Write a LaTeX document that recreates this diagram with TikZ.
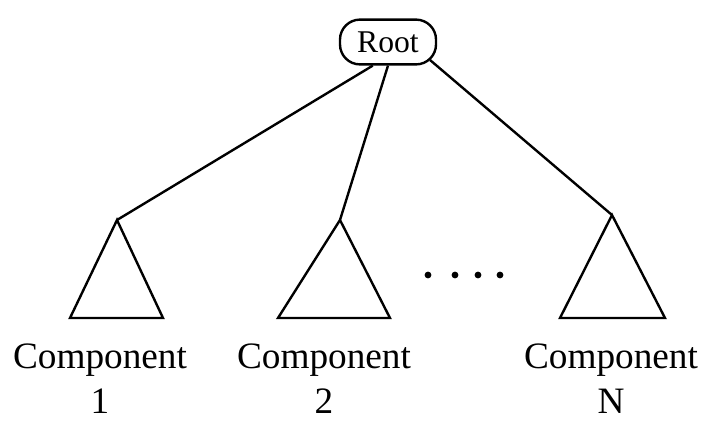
\documentclass[tikz,border=0pt]{standalone}
\usepackage{fontspec}
\setmainfont{Liberation Serif}
\usetikzlibrary{positioning}
\tikzset{
  rootbox/.style={draw,line width=1.7pt,rounded corners=0.5cm,minimum width=2.4cm,
                  minimum height=1.12cm,inner sep=0pt,font=\fontsize{22.5}{26}\selectfont},
  complbl/.style={align=center,anchor=base,inner sep=0pt,font=\fontsize{26.5}{32}\selectfont},
  edge/.style={line width=1.7pt},
  tri/.style={line width=1.7pt,line join=miter},
  dotmark/.style={circle,fill,minimum size=0.17cm,inner sep=0pt},
}
\begin{document}
\begin{tikzpicture}[x=0.025cm,y=-0.025cm]
  \useasboundingbox (0,0) rectangle (705,443);
  % root
  \node[rootbox] (root) at (388,42) {Root};
  % tips of the subtrees
  \coordinate (tip1) at (117,220);
  \coordinate (tip2) at (340,220);
  \coordinate (tipN) at (612,215);
  % subtrees
  \draw[tri] (tip1) -- (70,318) -- (163,318) -- cycle;
  \draw[tri] (tip2) -- (278,318) -- (390,318) -- cycle;
  \draw[tri] (tipN) -- (560,318) -- (665,318) -- cycle;
  % edges
  \draw[edge] ([xshift=-0.38cm]root.south) -- (tip1);
  \draw[edge] (root.south) -- (tip2);
  \draw[edge] ([xshift=1.05cm,yshift=0.14cm]root.south) -- (tipN);
  % dots
  \foreach \x [count=\i] in {428,455,478,500}
    \node[dotmark] (dot\i) at (\x,275) {};
  % labels
  \node[complbl] (comp1) at (100,413) {Component\\1};
  \node[complbl] (comp2) at (324,413) {Component\\2};
  \node[complbl] (compN) at (611,413) {Component\\N};
\end{tikzpicture}
\end{document}
